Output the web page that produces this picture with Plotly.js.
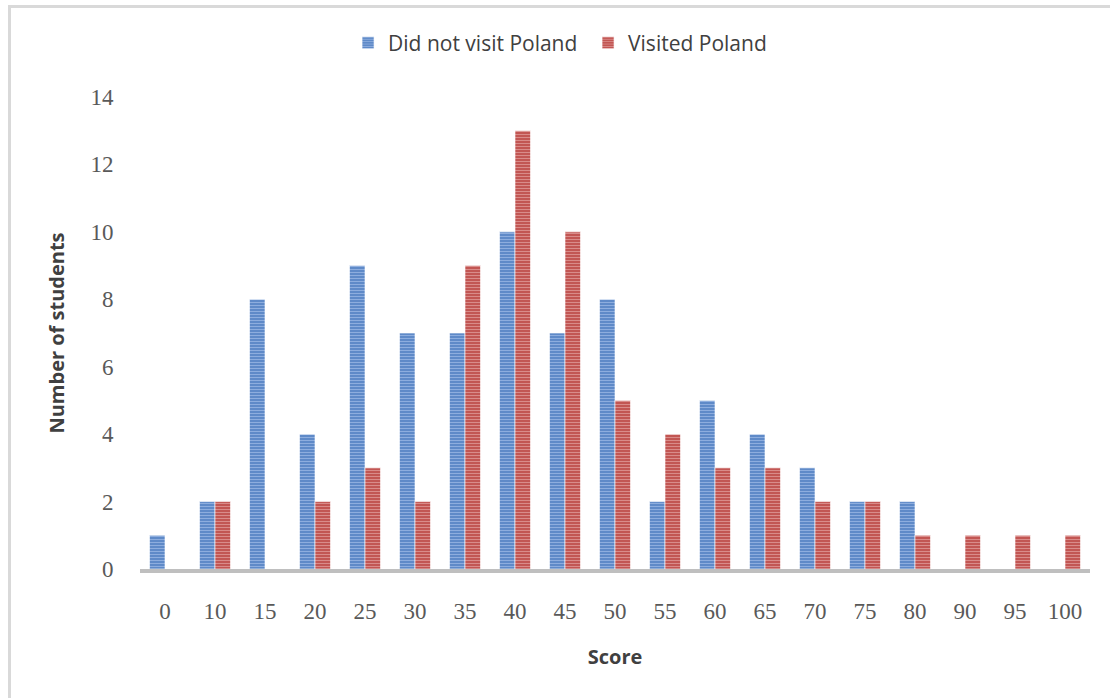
<!DOCTYPE html>
<html>
<head>
<meta charset="utf-8">
<script src="https://cdn.plot.ly/plotly-3.0.1.min.js"></script>
<style>
  html, body { margin: 0; padding: 0; background: #fff; }
  #wrap { position: relative; width: 1110px; height: 698px; overflow: hidden; }
  #chart { position: absolute; left: 0; top: 0; width: 1110px; height: 698px; }
  #frame { position: absolute; left: 8px; top: 5px; width: 1200px; height: 800px;
           border-left: 3px solid #d9d9d9; border-top: 3px solid #d9d9d9; pointer-events: none; }
</style>
</head>
<body>
<div id="wrap">
  <div id="chart"></div>
  <div id="frame"></div>
</div>
<script>
// Score bins and student counts per group
const scores = ['0', '10', '15', '20', '25', '30', '35', '40', '45', '50',
                '55', '60', '65', '70', '75', '80', '90', '95', '100'];
const didNotVisit = [1, 2, 8, 4, 9, 7, 7, 10, 7, 8, 2, 5, 4, 3, 2, 2, 0, 0, 0];
const visited     = [0, 2, 0, 2, 3, 2, 9, 13, 10, 5, 4, 3, 3, 2, 2, 1, 1, 1, 1];
const yTicks = [0, 2, 4, 6, 8, 10, 12, 14];

function stripedBar(name, values, base, stripe) {
  return {
    type: 'bar',
    name: name,
    x: scores,
    y: values,
    marker: {
      color: base,
      line: { color: 'rgba(255,255,255,0.6)', width: 1 },
      pattern: { shape: '-', fillmode: 'replace', bgcolor: base, fgcolor: stripe, size: 3, solidity: 0.4 }
    },
    hoverinfo: 'x+y+name'
  };
}

const data = [
  stripedBar('Did not visit Poland', didNotVisit, '#5a86c6', '#8dadde'),
  stripedBar('Visited Poland', visited, '#c0504d', '#d98b89')
];

const serif = 'Liberation Serif, Times New Roman, serif';
const sans = 'Open Sans, Liberation Sans, Arial, sans-serif';

const layout = {
  width: 1110,
  height: 698,
  margin: { l: 140, r: 20, t: 97, b: 129 },
  paper_bgcolor: '#ffffff',
  plot_bgcolor: '#ffffff',
  barmode: 'group',
  bargap: 0.38,
  bargroupgap: 0,
  showlegend: true,
  legend: {
    orientation: 'h',
    x: 0.219, xanchor: 'left',
    y: 1.114, yanchor: 'middle',
    font: { family: sans, size: 21, color: '#404040' },
    itemwidth: 30,
    entrywidth: 195,
    entrywidthmode: 'pixels',
    traceorder: 'normal'
  },
  xaxis: {
    type: 'category',
    showline: true,
    linecolor: '#bfbfbf',
    linewidth: 4,
    ticks: 'outside',
    ticklen: 18,
    tickcolor: 'rgba(0,0,0,0)',
    tickfont: { family: serif, size: 23, color: '#595959' },
    showgrid: false,
    zeroline: false,
    title: { text: 'Score', font: { family: sans, size: 20, color: '#404040', weight: 'bold' }, standoff: 28 }
  },
  yaxis: {
    range: [0, 14],
    tickvals: yTicks,
    ticktext: yTicks.map(String),
    showline: false,
    showgrid: false,
    zeroline: false,
    ticks: 'outside',
    ticklen: 21,
    tickcolor: 'rgba(0,0,0,0)',
    tickfont: { family: serif, size: 23, color: '#595959' },
    title: { text: 'Number of students', font: { family: sans, size: 20, color: '#404040', weight: 'bold' }, standoff: 20 }
  }
};

Plotly.newPlot('chart', data, layout, { displayModeBar: false, staticPlot: true });
</script>
</body>
</html>
